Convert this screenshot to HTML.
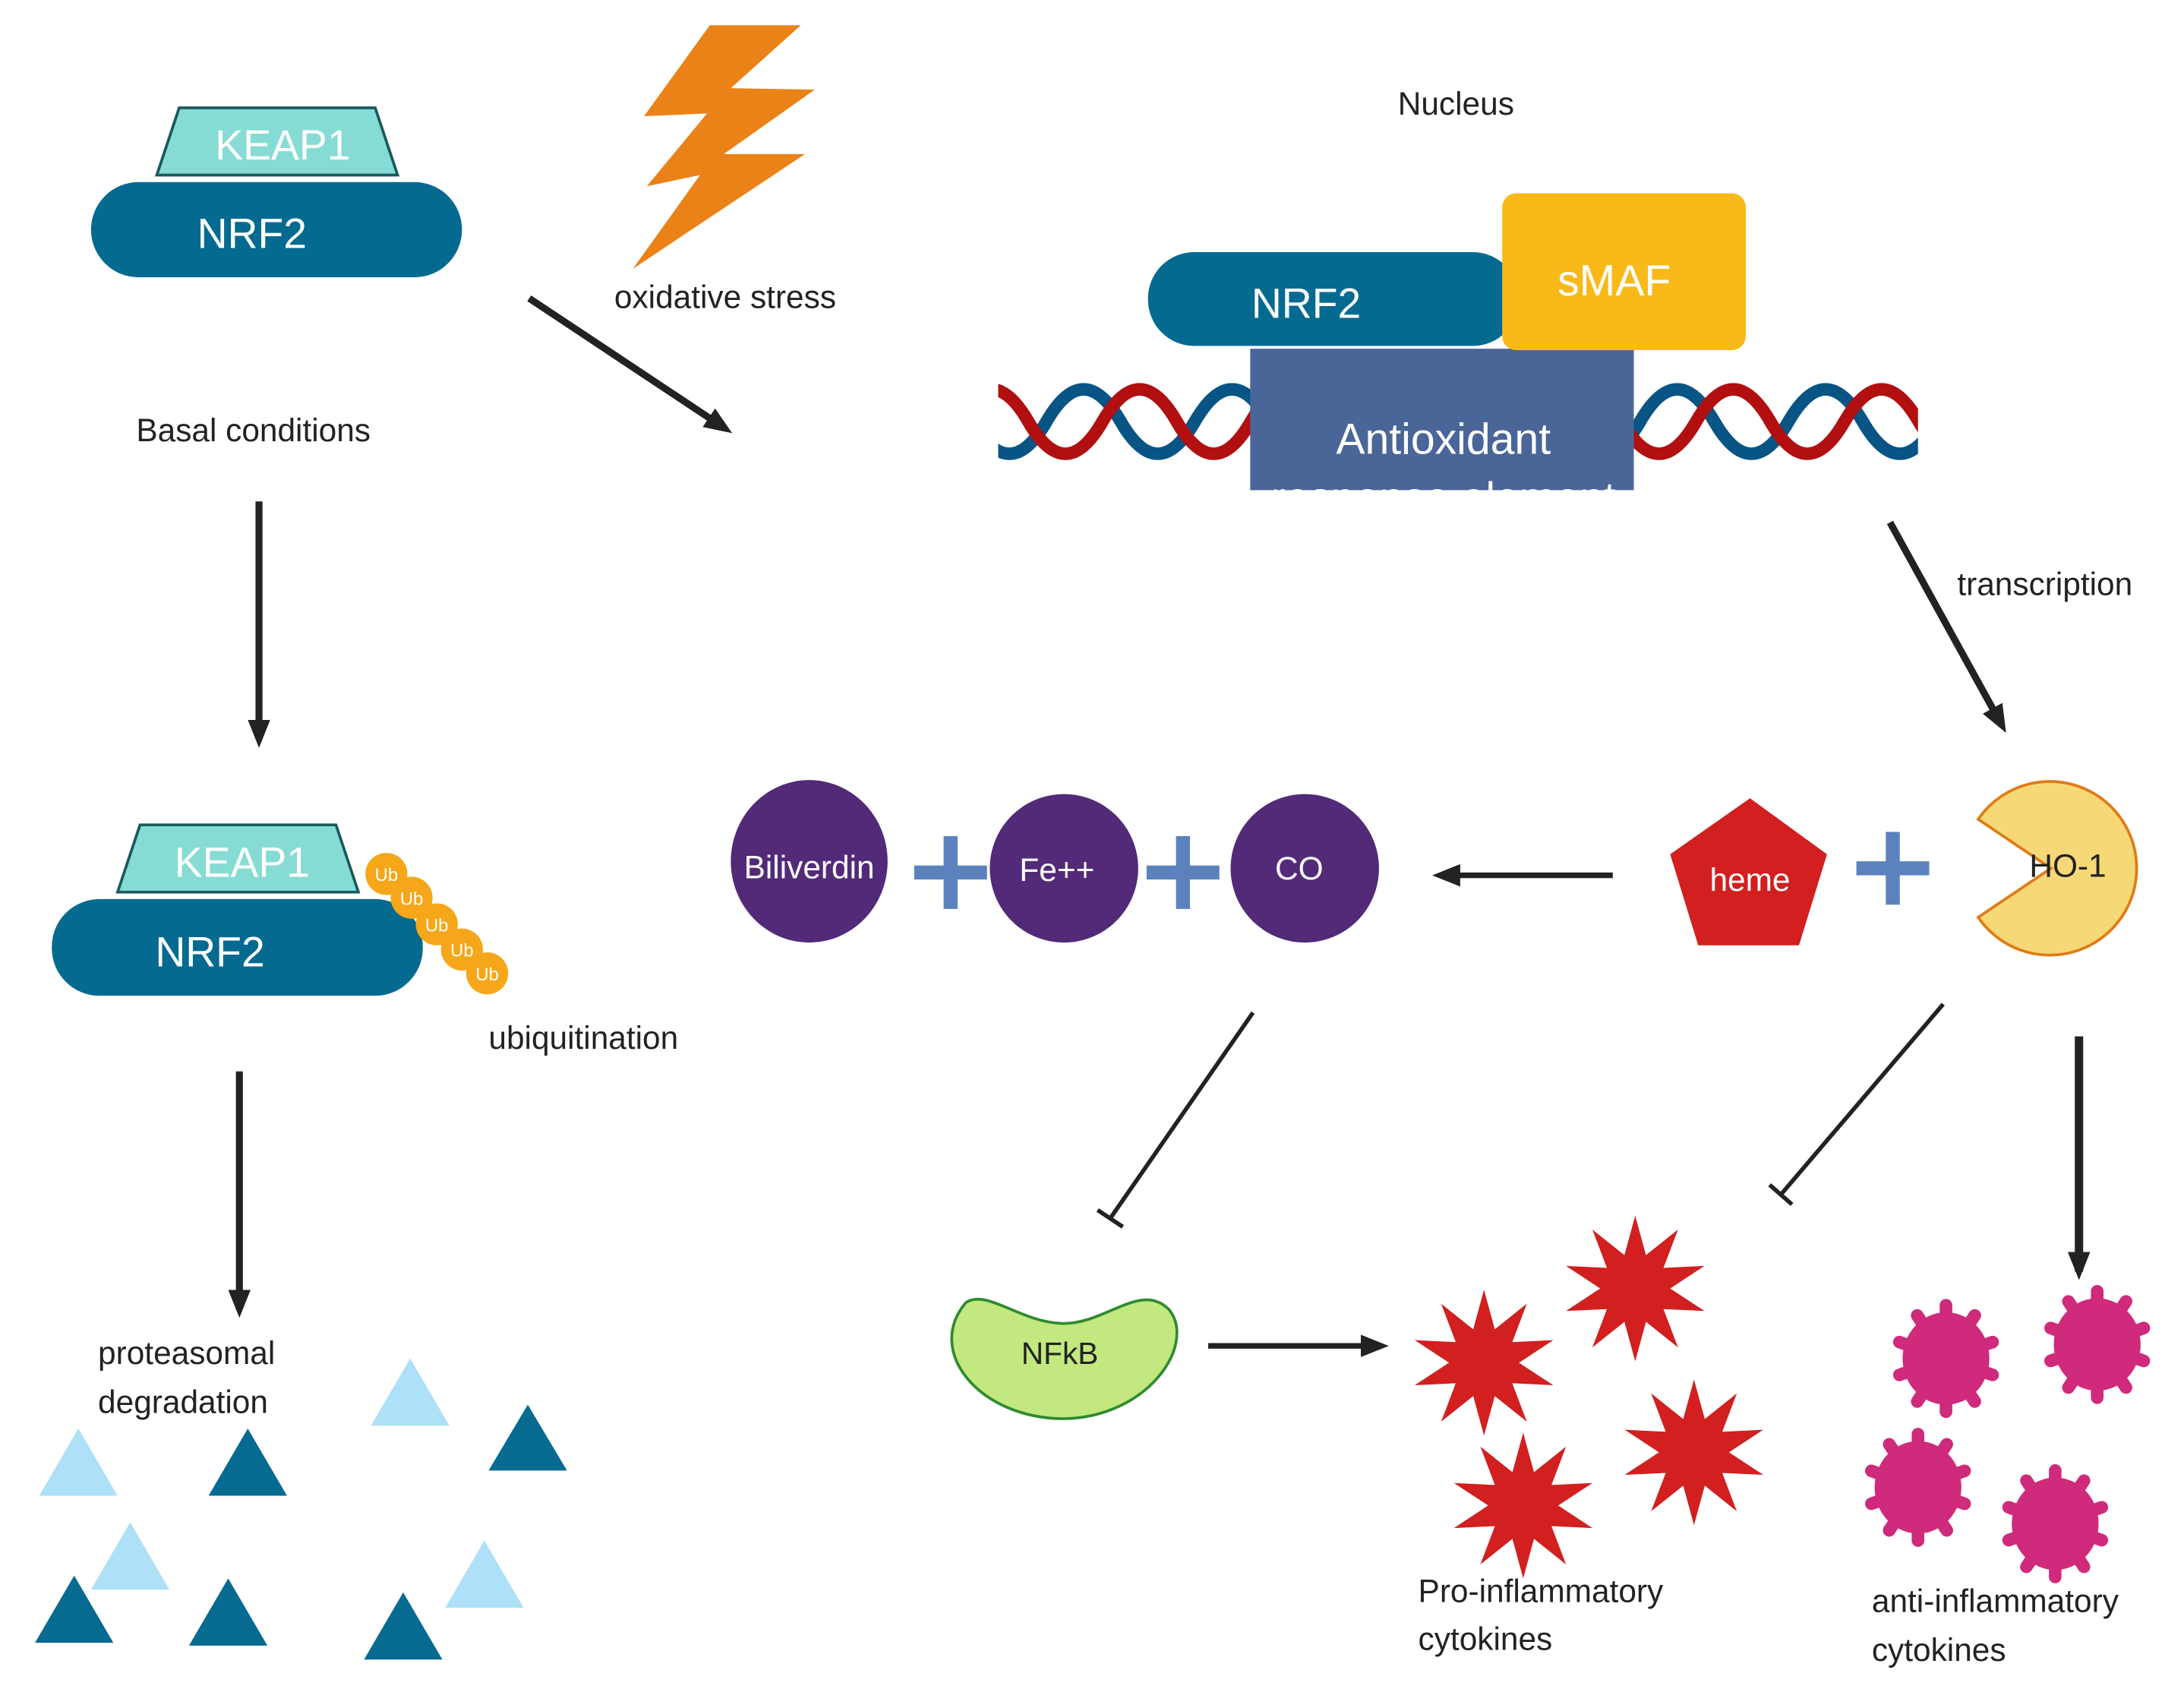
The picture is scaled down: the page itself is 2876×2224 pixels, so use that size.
<!DOCTYPE html>
<html><head><meta charset="utf-8"><style>
html,body{margin:0;padding:0;background:#fff;}
svg{display:block;}
text{font-family:"Liberation Sans",sans-serif;}
</style></head><body>
<svg id="s" width="2876" height="2224" viewBox="0 0 1560 1206" preserveAspectRatio="none" xmlns="http://www.w3.org/2000/svg">
<defs>
<marker id="ah2" markerWidth="20" markerHeight="20" refX="14" refY="10" orient="auto" markerUnits="userSpaceOnUse" viewBox="0 0 20 20"><path d="M0,2 L20,10 L0,18 z" fill="#222"/></marker>
<clipPath id="dna"><rect x="713" y="250" width="657" height="110"/></clipPath>
<clipPath id="box"><rect x="893" y="249" width="274" height="101"/></clipPath>
</defs>
<rect width="1560" height="1206" fill="#fff"/>

<polygon points="112,125 128,77 268,77 284,125" fill="#86dcd4" stroke="#1a5a5e" stroke-width="2"/>
<text x="202" y="114" font-size="30" fill="#fff" text-anchor="middle">KEAP1</text>
<rect x="65" y="130" width="265" height="68" rx="34" fill="#056a90"/>
<text x="180" y="177" font-size="30" fill="#fff" text-anchor="middle">NRF2</text>

<polygon points="507,18 572,18 522,63 582,64 517,110 575,110 452,192 500,125 462,133 505,81 460,83" fill="#eb8217"/>
<text x="518" y="220" font-size="23" fill="#222" text-anchor="middle">oxidative stress</text>
<line x1="378" y1="213" x2="518" y2="306" stroke="#222" stroke-width="5" marker-end="url(#ah2)"/>

<text x="181" y="315" font-size="23" fill="#222" text-anchor="middle">Basal conditions</text>
<line x1="185" y1="358" x2="185" y2="528" stroke="#222" stroke-width="5" marker-end="url(#ah2)"/>

<text x="1040" y="82" font-size="23" fill="#222" text-anchor="middle">Nucleus</text>

<g clip-path="url(#dna)" fill="none" stroke-width="9">
<path d="M641.5,301 Q668,255 694.5,301 T747.5,301 T800.5,301 T853.5,301 T906.5,301 T959.5,301 T1012.5,301 T1065.5,301 T1118.5,301 T1171.5,301 T1224.5,301 T1277.5,301 T1330.5,301 T1383.5,301 T1436.5,301" stroke="#075485"/>
<path d="M681.5,301 Q708,255 734.5,301 T787.5,301 T840.5,301 T893.5,301 T946.5,301 T999.5,301 T1052.5,301 T1105.5,301 T1158.5,301 T1211.5,301 T1264.5,301 T1317.5,301 T1370.5,301 T1423.5,301" stroke="#b10f10"/>
</g>
<rect x="893" y="249" width="274" height="101" fill="#4a6698"/>
<text x="1031" y="324" font-size="31" fill="#fff" text-anchor="middle">Antioxidant</text>
<text x="1031" y="366" font-size="31" fill="#fff" text-anchor="middle" clip-path="url(#box)">response element</text>
<rect x="820" y="180" width="265" height="67" rx="33" fill="#056a90"/>
<text x="933" y="227" font-size="30" fill="#fff" text-anchor="middle">NRF2</text>
<rect x="1073" y="138" width="174" height="112" rx="10" fill="#f9b918"/>
<text x="1153" y="211" font-size="31" fill="#fff" text-anchor="middle">sMAF</text>

<line x1="1350" y1="373" x2="1430" y2="518" stroke="#222" stroke-width="5" marker-end="url(#ah2)"/>
<text x="1398" y="425" font-size="23" fill="#222">transcription</text>

<ellipse cx="578" cy="615" rx="56" ry="58" fill="#522a78"/>
<text x="578" y="627" font-size="23" fill="#fff" text-anchor="middle">Biliverdin</text>
<circle cx="760" cy="620" r="53" fill="#522a78"/>
<text x="755" y="629" font-size="23" fill="#fff" text-anchor="middle">Fe++</text>
<circle cx="932" cy="620" r="53" fill="#522a78"/>
<text x="928" y="628" font-size="23" fill="#fff" text-anchor="middle">CO</text>
<g fill="#5b82bd">
<rect x="653" y="618" width="52" height="10"/><rect x="674" y="597" width="10" height="52"/>
<rect x="819" y="618" width="52" height="10"/><rect x="840" y="597" width="10" height="52"/>
<rect x="1326" y="615" width="52" height="10"/><rect x="1347" y="594" width="10" height="52"/>
</g>
<line x1="1152" y1="625" x2="1029" y2="625" stroke="#222" stroke-width="4" marker-end="url(#ah2)"/>
<polygon points="1250,570 1305,610 1285,675 1213,675 1193,610" fill="#d21f1f"/>
<text x="1250" y="636" font-size="23" fill="#fff" text-anchor="middle">heme</text>
<path d="M1465,620 L1413,585 A62,62 0 1 1 1413,655 Z" fill="#f7d877" stroke="#e07b16" stroke-width="2"/>
<text x="1477" y="626" font-size="23" fill="#222" text-anchor="middle">HO-1</text>

<g stroke="#222" stroke-width="3">
<line x1="895" y1="723" x2="793" y2="870"/><line x1="784" y1="864" x2="802" y2="876"/>
<line x1="1388" y1="717" x2="1272" y2="853"/><line x1="1264" y1="846" x2="1280" y2="860"/>
</g>
<line x1="1485" y1="740" x2="1485" y2="908" stroke="#222" stroke-width="6" marker-end="url(#ah2)"/>

<path d="M690,930 C705,920 730,945 760,945 C790,945 815,915 835,935 C855,960 820,1012 760,1013 C700,1013 660,965 690,930 Z" fill="#c2e87f" stroke="#2e8b2e" stroke-width="2"/>
<text x="757" y="974" font-size="22" fill="#222" text-anchor="middle">NFkB</text>
<line x1="863" y1="961" x2="986" y2="961" stroke="#222" stroke-width="4" marker-end="url(#ah2)"/>

<g id="stars" fill="#d21f1f"></g>
<g id="virus" fill="#cf2a7b"></g>
<text x="1013" y="1144" font-size="23" fill="#222">Pro-inflammatory</text>
<text x="1013" y="1178" font-size="23" fill="#222">cytokines</text>
<text x="1337" y="1151" font-size="23" fill="#222">anti-inflammatory</text>
<text x="1337" y="1186" font-size="23" fill="#222">cytokines</text>

<polygon points="84,637 100,589 240,589 256,637" fill="#86dcd4" stroke="#1a5a5e" stroke-width="2"/>
<text x="173" y="626" font-size="30" fill="#fff" text-anchor="middle">KEAP1</text>
<rect x="37" y="642" width="265" height="69" rx="34" fill="#056a90"/>
<text x="150" y="690" font-size="30" fill="#fff" text-anchor="middle">NRF2</text>
<g fill="#f5a719">
<circle cx="276" cy="624" r="15"/><circle cx="294" cy="641" r="15"/><circle cx="312" cy="660" r="15"/><circle cx="330" cy="678" r="15"/><circle cx="348" cy="695" r="15"/>
</g>
<g font-size="13" fill="#fff" text-anchor="middle">
<text x="276" y="629">Ub</text><text x="294" y="646">Ub</text><text x="312" y="665">Ub</text><text x="330" y="683">Ub</text><text x="348" y="700">Ub</text>
</g>
<text x="349" y="749" font-size="23" fill="#222">ubiquitination</text>
<line x1="171" y1="765" x2="171" y2="935" stroke="#222" stroke-width="5" marker-end="url(#ah2)"/>
<text x="70" y="974" font-size="23" fill="#222">proteasomal</text>
<text x="70" y="1009" font-size="23" fill="#222">degradation</text>
<g fill="#aee0f8">
<polygon points="293,970 265,1018 321,1018"/><polygon points="56,1020 28,1068 84,1068"/>
<polygon points="93,1087 65,1135 121,1135"/><polygon points="346,1100 318,1148 374,1148"/>
</g>
<g fill="#076a91">
<polygon points="177,1020 149,1068 205,1068"/><polygon points="377,1003 349,1050 405,1050"/>
<polygon points="53,1125 25,1173 81,1173"/><polygon points="163,1127 135,1175 191,1175"/>
<polygon points="288,1137 260,1185 316,1185"/>
</g>
</svg>
<script>
(function(){
var ns="http://www.w3.org/2000/svg";
var sg=document.getElementById("stars");
[[1060,973],[1168,920],[1210,1037],[1088,1075]].forEach(function(c){
 var p=[];for(var i=0;i<20;i++){var a=-Math.PI/2+i*Math.PI/10;var r=i%2?25:52;p.push((c[0]+r*Math.cos(a)).toFixed(1)+","+(c[1]+r*Math.sin(a)).toFixed(1));}
 var e=document.createElementNS(ns,"polygon");e.setAttribute("points",p.join(" "));sg.appendChild(e);
});
var vg=document.getElementById("virus");
[[1390,970],[1498,960],[1370,1062],[1468,1088]].forEach(function(c){
 var e=document.createElementNS(ns,"ellipse");e.setAttribute("cx",c[0]);e.setAttribute("cy",c[1]);e.setAttribute("rx",31);e.setAttribute("ry",33);vg.appendChild(e);
 for(var i=0;i<10;i++){var a=i*Math.PI/5;
  var l=document.createElementNS(ns,"line");l.setAttribute("x1",c[0]+24*Math.sin(a));l.setAttribute("y1",c[1]-26*Math.cos(a));l.setAttribute("x2",c[0]+35*Math.sin(a));l.setAttribute("y2",c[1]-38*Math.cos(a));l.setAttribute("stroke","#cf2a7b");l.setAttribute("stroke-width",9);l.setAttribute("stroke-linecap","round");vg.appendChild(l);}
});
})();
</script>
</body></html>
